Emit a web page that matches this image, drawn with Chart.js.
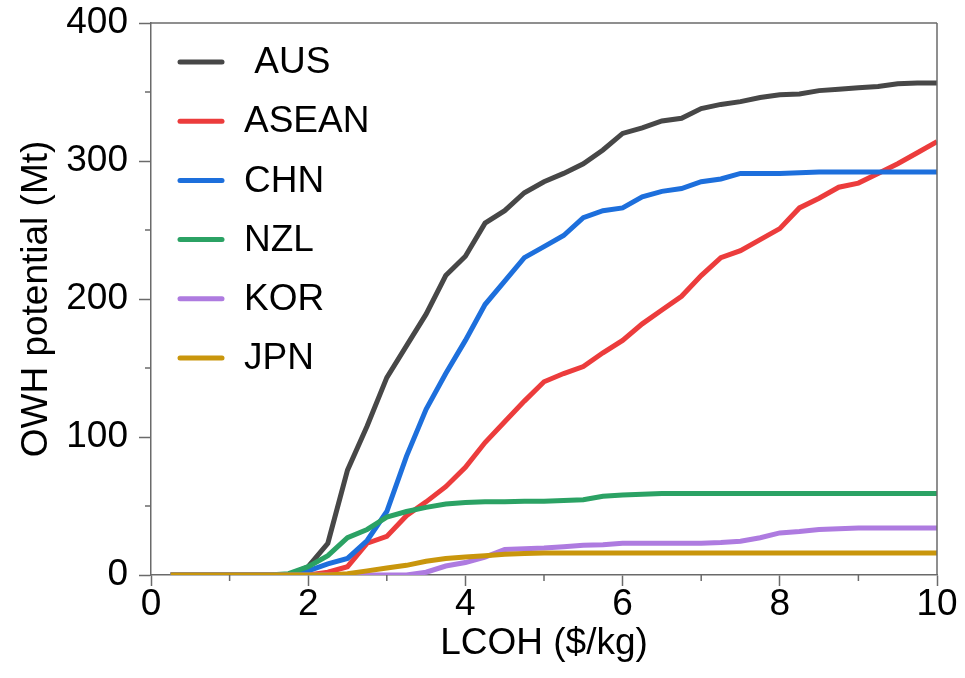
<!DOCTYPE html>
<html>
<head>
<meta charset="utf-8">
<title>OWH potential vs LCOH</title>
<script src="https://cdn.jsdelivr.net/npm/chart.js@4/dist/chart.umd.min.js"></script>
<style>
    html, body { margin: 0; padding: 0; background: #fff; }
    #wrap { width: 965px; height: 678px; }
</style>
</head>
<body>
<div id="wrap"><canvas id="owhChart" width="965" height="678"></canvas></div>
<script>
// LCOH ($/kg) sample points
const lcoh = [0.25, 0.5, 0.75, 1, 1.25, 1.5, 1.75, 2, 2.25, 2.5, 2.75, 3, 3.25, 3.5, 3.75, 4, 4.25, 4.5, 4.75, 5,
              5.25, 5.5, 5.75, 6, 6.25, 6.5, 6.75, 7, 7.25, 7.5, 7.75, 8, 8.25, 8.5, 8.75, 9, 9.25, 9.5, 9.75, 10];

// OWH potential (Mt) per region
const aus   = [0, 0, 0, 0, 0, 0, 0, 6, 23, 76, 108, 143, 166, 189, 217, 231, 255, 264, 277, 285,
               291, 298, 308, 320, 324, 329, 331, 338, 341, 343, 346, 348, 348.5, 351, 352, 353, 354, 356, 356.5, 356.5];
const asean = [0, 0, 0, 0, 0, 0, 0, 0, 2, 6, 23, 28, 43, 53, 64, 78, 96, 111, 126, 140,
               146, 151, 161, 170, 182, 192, 202, 217, 230, 235, 243, 251, 266, 273, 281, 284, 291, 298, 306, 314];
const chn   = [0, 0, 0, 0, 0, 0, 0, 3, 8, 12, 25, 46, 86, 120, 146, 170, 196, 213, 230, 238,
               246, 259, 264, 266, 274, 278, 280, 285, 287, 291, 291, 291, 291.5, 292, 292, 292, 292, 292, 292, 292];
const nzl   = [0, 0, 0, 0, 0, 0, 1, 6, 14, 27, 33, 42, 46, 49, 51.5, 52.5, 53, 53, 53.5, 53.5,
               54, 54.5, 57, 58, 58.5, 59, 59, 59, 59, 59, 59, 59, 59, 59, 59, 59, 59, 59, 59, 59];
const kor   = [0, 0, 0, 0, 0, 0, 0, 0, 0, 0, 0, 0, 0, 2, 6.5, 9, 13, 18.5, 19, 19.5,
               20.5, 21.5, 22, 23, 23, 23, 23, 23, 23.5, 24.5, 27, 30.5, 31.5, 33, 33.5, 34, 34, 34, 34, 34];
const jpn   = [0, 0, 0, 0, 0, 0, 0, 0, 0, 1, 3, 5, 7, 10, 12, 13, 14, 15, 15.5, 16,
               16, 16, 16, 16, 16, 16, 16, 16, 16, 16, 16, 16, 16, 16, 16, 16, 16, 16, 16, 16];

const labels = [' AUS', 'ASEAN', 'CHN', 'NZL', 'KOR', 'JPN'];
const colors = ['#474747', '#ec3c3c', '#1d6fdc', '#2ba264', '#ae7be0', '#c9960c'];
const series = [aus, asean, chn, nzl, kor, jpn];

const xMinorTicks = [1, 3, 5, 7, 9];
const yMinorTicks = [50, 150, 250, 350];

const FONT = '"Liberation Sans", Arial, sans-serif';
const AXIS_COLOR = '#6a6a6a';

// top/right frame, minor ticks and the in-plot legend
const framePlugin = {
    id: 'framePlugin',
    afterDraw(chart) {
        const { ctx, chartArea: a, scales } = chart;
        const seg = (x1, y1, x2, y2) => { ctx.beginPath(); ctx.moveTo(x1, y1); ctx.lineTo(x2, y2); ctx.stroke(); };
        ctx.save();
        ctx.strokeStyle = AXIS_COLOR;
        ctx.lineWidth = 1.5;
        seg(a.left, a.top, a.right, a.top);
        seg(a.right, a.top, a.right, a.bottom);
        xMinorTicks.forEach(v => {
            const px = scales.x.getPixelForValue(v);
            seg(px, a.bottom, px, a.bottom + 6);
        });
        yMinorTicks.forEach(v => {
            const py = scales.y.getPixelForValue(v);
            seg(a.left - 6, py, a.left, py);
        });

        // legend
        ctx.lineCap = 'round';
        ctx.font = '37px ' + FONT;
        ctx.textBaseline = 'middle';
        ctx.textAlign = 'left';
        chart.data.datasets.forEach((ds, i) => {
            const cy = a.top + 39 + i * 59.2;
            ctx.strokeStyle = ds.borderColor;
            ctx.lineWidth = 5;
            seg(a.left + 29, cy, a.left + 71, cy);
            ctx.fillStyle = '#000';
            ctx.fillText(ds.label, a.left + 93, cy + 1);
        });
        ctx.restore();
    }
};

const datasets = series.map((vals, i) => ({
    label: labels[i],
    data: lcoh.map((x, j) => ({ x: x, y: vals[j] })),
    borderColor: colors[i],
    backgroundColor: colors[i],
    borderWidth: 5,
    pointRadius: 0,
    tension: 0,
    fill: false,
    order: series.length - i
}));

new Chart(document.getElementById('owhChart').getContext('2d'), {
    type: 'line',
    data: { datasets },
    plugins: [framePlugin],
    options: {
        responsive: false,
        animation: false,
        devicePixelRatio: 1,
        layout: { padding: { top: 23, right: 28, left: 0, bottom: 0 } },
        plugins: { legend: { display: false }, tooltip: { enabled: false } },
        scales: {
            x: {
                type: 'linear',
                min: 0,
                max: 10,
                afterFit: s => { s.height = 103; s.paddingLeft = 0; s.paddingRight = 0; },
                ticks: { stepSize: 2, color: '#000', padding: 0, maxRotation: 0,
                         font: { family: FONT, size: 37, lineHeight: 1 } },
                grid: { drawOnChartArea: false, drawTicks: true, tickLength: 11, tickColor: AXIS_COLOR, tickWidth: 1.5 },
                border: { display: true, color: AXIS_COLOR, width: 1.5 },
                title: { display: true, text: 'LCOH ($/kg)', color: '#000', padding: { top: 0, bottom: 12 },
                         font: { family: FONT, size: 37, lineHeight: 1.2 } }
            },
            y: {
                type: 'linear',
                min: 0,
                max: 400,
                afterFit: s => { s.width = 151; s.paddingTop = 0; s.paddingBottom = 0; },
                ticks: { stepSize: 100, color: '#000', padding: 11,
                         font: { family: FONT, size: 37, lineHeight: 1 } },
                grid: { drawOnChartArea: false, drawTicks: true, tickLength: 12, tickColor: AXIS_COLOR, tickWidth: 1.5 },
                border: { display: true, color: AXIS_COLOR, width: 1.5 },
                title: { display: true, text: 'OWH potential (Mt)', color: '#000', padding: { top: 18, bottom: 0 },
                         font: { family: FONT, size: 37, lineHeight: 1 } }
            }
        }
    }
});
</script>
</body>
</html>
